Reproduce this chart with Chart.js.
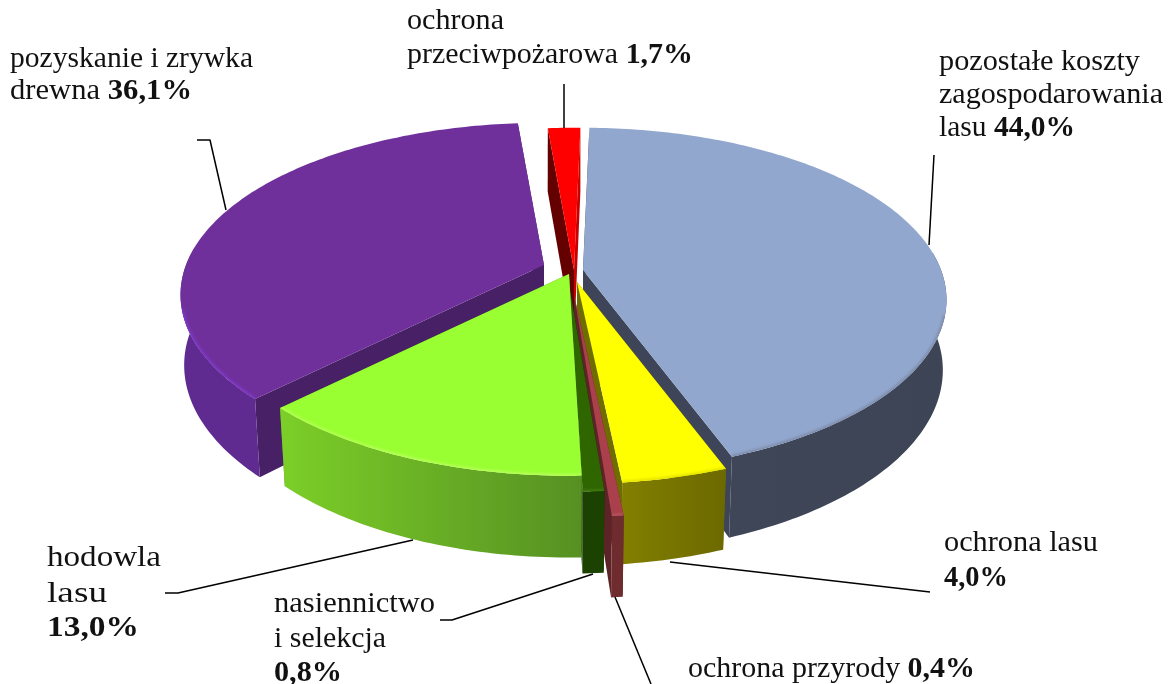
<!DOCTYPE html>
<html><head><meta charset="utf-8">
<style>html,body{margin:0;padding:0;background:#fff}canvas{display:block}</style>
<script src="https://cdn.jsdelivr.net/npm/chart.js@4"></script>
</head><body><canvas id="c" width="1172" height="684"></canvas>
<script>
const categories=["pozostałe koszty zagospodarowania lasu","ochrona lasu","ochrona przyrody","nasiennictwo i selekcja","hodowla lasu","pozyskanie i zrywka drewna","ochrona przeciwpożarowa"];
const values=[44.0,4.0,0.4,0.8,13.0,36.1,1.7];
const topColors=["#92A7CE","#FFFF00","#A9404B","#2F6600","#99FF33","#70309C","#FF0000"];
const wallLeft=["#3E4658","#827F00","#6E2C2E","#1B4200","#7CCF28","#5F2B90","#650000"];
const wallRight=["#3C4455","#6C6900","#6E2C2E","#1B4200","#569022","#5F2B90","#650000"];
const faceStartColors=["#3E4558","#6F6C00","#5C2426","#0E2600","#569022","#472065","#650000"];
const faceEndColors=["#3E4558","#6F6C00","#5C2426","#0E2600","#569022","#472065","#C80000"];
const bevelColors=["#7F8EAC","#E8E600","#B5555E","#3F7A10","#B4FF55","#7E38C4","#FF3030"];
const valueLabels=values.map(v=>v.toFixed(1).replace(".",",")+"%");

// layout of the tilted, exploded pie
const R=358,K=0.466,D=0.173,H=71;
const apex=[[583,270],[577,282],[574,295],[570,290],[569,274],[544,265],[574,270]];
const radial=[1,1,1.1,1,1,1,1];
const drawOrder=[5,6,0,1,2,3,4];

const labelLayout=[
 {i:0,x:939,w:[201,224,136],y:[70,103,136],lines:[[["pozostałe koszty",0]],[["zagospodarowania",0]],[["lasu ",0],["@",1]]]},
 {i:1,x:944,w:[154,64],y:[551,586],lines:[[["ochrona lasu",0]],[["@",1]]]},
 {i:2,x:688,w:[287],y:[677],lines:[[["ochrona przyrody ",0],["@",1]]]},
 {i:3,x:274,w:[161,112,68],y:[612,647,681],lines:[[["nasiennictwo",0]],[["i selekcja",0]],[["@",1]]]},
 {i:4,x:47,w:[114,60,92],y:[566,602,636],lines:[[["hodowla",0]],[["lasu",0]],[["@",1]]]},
 {i:5,x:10,w:[243,182],y:[67,99],lines:[[["pozyskanie i zrywka",0]],[["drewna ",0],["@",1]]]},
 {i:6,x:407,w:[97,286],y:[29,63],lines:[[["ochrona",0]],[["przeciwpożarowa ",0],["@",1]]]}
];
const leaders=[
 [[564,84],[564,128]],
 [[197,140],[210,140],[226,210]],
 [[934,155],[929,245]],
 [[670,562],[930,592]],
 [[615,597],[651,684]],
 [[593,574],[452,620],[440,620]],
 [[413,540],[178,593],[165,593]]
];
const FONT='"Liberation Serif",serif',SIZE=29;

function pt(i,t,level,isApex){
  const a=apex[i],s=radial[i];
  if(isApex) return level?[a[0],a[1]+H]:[a[0],a[1]];
  const X=Math.sin(t),Y=-Math.cos(t),w=1-D*Y;
  const dx=s*R*X/w,dy=s*R*K*Y/w,sh=0.992-0.012*Y;
  return level?[a[0]+dx*sh,a[1]+dy*0.98+H/w]:[a[0]+dx,a[1]+dy];
}
function poly(ctx,pts){ctx.beginPath();pts.forEach((p,n)=>n?ctx.lineTo(p[0],p[1]):ctx.moveTo(p[0],p[1]));ctx.closePath();}
function arcPts(i,a,b,level){const n=Math.max(2,Math.ceil((b-a)*180/Math.PI));const o=[];for(let k=0;k<=n;k++)o.push(pt(i,a+(b-a)*k/n,level));return o;}

const pie3d={id:"pie3d",
 beforeDatasetDraw(chart,args){
  const ctx=chart.ctx,arcs=args.meta.data,deg=Math.PI/180;
  ctx.save();
  for(const i of drawOrder){
   const a=arcs[i].startAngle+Math.PI/2,b=arcs[i].endAngle+Math.PI/2;
   const topArc=arcPts(i,a,b,0);
   ctx.fillStyle=faceStartColors[i];
   poly(ctx,[pt(i,0,0,true),pt(i,a,0),pt(i,a,1),pt(i,0,1,true)]);ctx.fill();
   ctx.fillStyle=faceEndColors[i];
   poly(ctx,[pt(i,0,0,true),pt(i,b,0),pt(i,b,1),pt(i,0,1,true)]);ctx.fill();
   // outer wall: only the part of the rim that faces the viewer
   const wa=Math.max(a,84*deg),wb=Math.min(b,276*deg);
   if(wb>wa){
    const t0=arcPts(i,wa,wb,0),b0=arcPts(i,wa,wb,1);
    const xs=t0.map(p=>p[0]),g=ctx.createLinearGradient(Math.min(...xs),0,Math.max(...xs),0);
    g.addColorStop(0,wallLeft[i]);g.addColorStop(1,wallRight[i]);
    ctx.fillStyle=g;
    poly(ctx,t0.concat(b0.slice().reverse()));ctx.fill();
   }
   // top surface
   const outline=[pt(i,0,0,true)].concat(topArc);
   ctx.fillStyle=topColors[i];
   poly(ctx,outline);ctx.fill();
   // soft bevel inside the near rim
   const na=Math.max(a,105*deg),nb=Math.min(b,255*deg);
   if(nb>na){
    const near=arcPts(i,na,nb,0);
    ctx.save();poly(ctx,outline);ctx.clip();
    ctx.filter="blur(1px)";ctx.strokeStyle=bevelColors[i];ctx.lineWidth=4;ctx.beginPath();
    near.forEach((p,n)=>n?ctx.lineTo(p[0],p[1]):ctx.moveTo(p[0],p[1]));ctx.stroke();ctx.restore();
   }
  }
  ctx.restore();
  return false;
 },
 afterDatasetsDraw(chart){
  const ctx=chart.ctx;ctx.save();
  ctx.strokeStyle="#000";ctx.lineWidth=1.5;ctx.lineJoin="round";
  for(const l of leaders){ctx.beginPath();l.forEach((p,n)=>n?ctx.lineTo(p[0],p[1]):ctx.moveTo(p[0],p[1]));ctx.stroke();}
  ctx.fillStyle="#111";ctx.textBaseline="alphabetic";ctx.textAlign="left";
  for(const L of labelLayout){
   L.lines.forEach((runs,n)=>{
    const parts=runs.map(r=>({t:r[0]==="@"?valueLabels[L.i]:r[0],b:r[1]}));
    let total=0;
    parts.forEach(p=>{ctx.font=(p.b?"bold ":"")+SIZE+"px "+FONT;p.w=ctx.measureText(p.t).width;total+=p.w;});
    const sx=L.w[n]/total;
    ctx.save();ctx.translate(L.x,L.y[n]);ctx.scale(sx,1);
    let x=0;parts.forEach(p=>{ctx.font=(p.b?"bold ":"")+SIZE+"px "+FONT;ctx.fillText(p.t,x,0);x+=p.w;});
    ctx.restore();
   });
  }
  ctx.restore();
 }
};
new Chart(document.getElementById("c"),{type:"pie",
 data:{labels:categories,datasets:[{data:values,backgroundColor:topColors,borderWidth:0}]},
 options:{responsive:false,animation:false,rotation:1.2,
  layout:{padding:0},plugins:{legend:{display:false},tooltip:{enabled:false}}},
 plugins:[pie3d]});
</script></body></html>
